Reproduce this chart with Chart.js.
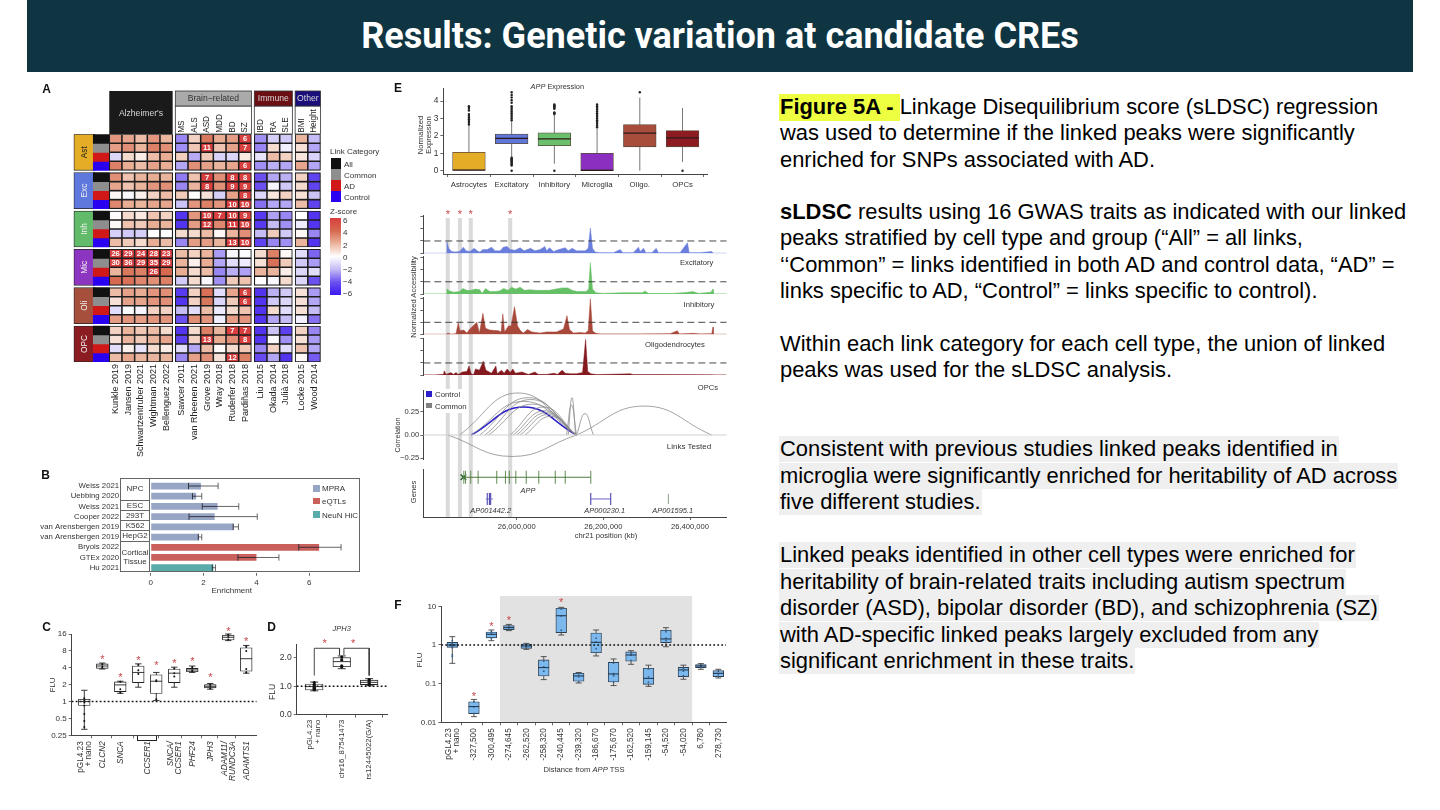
<!DOCTYPE html>
<html>
<head>
<meta charset="utf-8">
<script src="https://cdn.jsdelivr.net/npm/chart.js@4"></script>
<style>
html,body{margin:0;padding:0;background:#fff;}
#page{position:relative;width:1440px;height:810px;overflow:hidden;font-family:"Liberation Sans",Arial,sans-serif;}
#page canvas{position:absolute;filter:blur(0.35px);}
#head{position:absolute;left:27px;top:0;width:1386px;height:72px;background:#0e3541;color:#fff;font:700 36px Roboto,sans-serif;text-align:center;line-height:72px;}
.line{position:absolute;left:780px;font-size:21.92px;line-height:26.4px;height:26.4px;color:#000;white-space:nowrap;}
.grey{background:#efefef;left:779px;padding:0 1px;}
.hl{background:#eeff41;font-weight:700;display:inline-block;height:27px;margin-left:-1px;padding-left:1px;}
.t{position:absolute;white-space:nowrap;color:#333;font-size:8px;z-index:5;}
</style>
</head>
<body>
<div id="page"><div id="head">Results: Genetic variation at candidate CREs</div></div>
<script>
// ---------- panel A: sLDSC z-scores, rows All / Common / AD / Control
const studies = ['Kunkle 2019','Jansen 2019','Schwartzentruber 2021','Wightman 2021','Bellenguez 2022','Sawcer 2011','van Rheenen 2021','Grove 2019','Wray 2018','Ruderfer 2018','Pardiñas 2018','Liu 2015','Okada 2014','Julià 2018','Locke 2015','Wood 2014'];
const traits = ['','','','','','MS','ALS','ASD','MDD','BD','SZ','IBD','RA','SLE','BMI','Height'];
const colPos = [0,1,2,3,4,5.21,6.21,7.21,8.21,9.21,10.21,11.44,12.44,13.44,14.66,15.66];
const cellTypes = ['Ast','Exc','Inh','Mic','Oli','OPC'];
const cellColors = ['#e5ac25','#5f78dd','#62bb6a','#8b35c0','#a74f3d','#8a1c22'];
const linkNames = ['All','Common','AD','Control'];
const linkColors = ['#111111','#8e8e8e','#d01818','#2a00f0'];
const groupNames = ["Alzheimer's",'Brain−related','Immune','Other'];
const groupFirst = [0,5,11,14];
const groupLast = [4,10,13,15];
const groupColors = ['#1a1a1a','#aaaaaa','#6b0f14','#1a0f7a'];
const zStops = [-6,-4,-2,0,2,4,6];
const zColors = [[58,26,240],[108,80,240],[197,187,245],[255,255,255],[235,180,156],[214,105,79],[217,63,63]];
const heatAst = [
 [2.8,2.4,1.8,2.8,2,-3,1.2,3.6,2.2,2.6,6,-2.8,-1.4,-1.6,2,-2],
 [2.6,3,2,3.4,3,-2.8,1.5,11,1.6,2.5,7,-3,1,-0.5,0.8,-2.4],
 [-1.2,1,0.5,1.8,2.2,1.3,-2.3,1.4,-1.3,-1.2,0.6,-0.8,1.8,1.2,0.7,-1.3],
 [3.4,2.2,1.8,2.5,2.2,-2.4,3,2.5,2,2.4,6,-2.8,-2.2,-2.4,2.4,-2.4]];
const heatExc = [
 [3,1.6,2,2.2,2,-3.2,1.6,7,3,8,8,-4,-2.4,-2.2,1.2,-4.5],
 [2.4,1.6,2,2.8,3,-3,2,8,3,9,9,-4,-0.3,-1.6,1,-4.5],
 [0.2,-0.2,0.4,1.2,1.8,1.4,0.1,0.8,-1.4,2.5,8,-1.2,0.7,1.2,0.8,-1.8],
 [3.2,2.2,2,2.4,2.4,-1.8,2.8,3.4,2.8,10,10,-3.4,-2.4,-2.4,1.8,-4.5]];
const heatInh = [
 [0.1,1,0.6,1.6,1.2,-5,2.8,10,7,10,9,-4.8,-2.5,-3,0,-5],
 [0.2,1.6,1.4,2.2,2,-5,2.6,12,3.2,11,10,-4.8,-2,-2.8,-0.6,-5],
 [-1.4,-1.6,-1.4,0,0,1,1,1.8,0.2,2,3,-2,1.4,-1.6,0.2,-3],
 [1.8,1.4,1,2.2,1.8,-3,2.6,2.6,2,13,10,-4.5,-3,-2.8,2,-5]];
const heatMic = [
 [26,29,24,28,23,1.8,1.2,2,-2.6,-0.2,-0.1,1,3.4,0.2,-1,-3.6],
 [30,36,29,35,29,2,0.4,2.2,-2.4,-1,-0.6,0.8,3.8,1.4,-1.6,-2.6],
 [2,3.6,3.4,26,4,2.2,1,1.8,-3,-2.2,-2.5,2,2,0.5,-1.2,-1],
 [4,3.8,3.2,3,3.4,-1.5,1,-0.2,-2.8,1.4,1.6,0,-0.2,1,-1.2,-4]];
const heatOli = [
 [1.8,2.5,2.2,2.8,3,-4.8,1.2,3.8,-1,2.4,6,-5,-2.2,-1.6,0.8,-2.6],
 [0.8,2.5,2.4,2.8,3,-5,1.2,3.6,-1.2,1.4,6,-5,-1.6,-1.2,0.8,-2.4],
 [-1,-0.1,-0.3,1.2,1.2,-2,-1,1.8,-0.6,1,1.6,-5,1,-1,0.8,-2],
 [2.6,2.8,2.6,2.8,2.8,-4,3,2.8,-0.5,2.6,2.8,-5,-2.4,-2,-0.4,-3.4]];
const heatOpc = [
 [1.2,2,1.5,1.8,1,-5,1,3.4,2,7,7,-5,-1.8,-4.6,1.2,-3],
 [0.8,2,1.4,2,2.4,-4.6,1.2,13,2.2,3,8,-5,-0.1,-2.8,0.8,-2.6],
 [-1,0.4,-0.8,1,0.5,-1,-2.4,1.8,0.1,1,1.5,-3,1.2,-1,1.6,-2.4],
 [1.8,2.4,2,2,2,-3,2.5,3,0.8,12,3.4,-4.2,-2.4,-5,0.2,-3.8]];
const heatBlocks = [heatAst,heatExc,heatInh,heatMic,heatOli,heatOpc];

// ---------- panel B
const enrichStudies = ['Weiss 2021','Uebbing 2020','Weiss 2021','Cooper 2022','van Arensbergen 2019','van Arensbergen 2019','Bryois 2022','GTEx 2020','Hu 2021'];
const enrichValues = [1.9,1.72,2.53,2.42,3.13,1.83,6.37,4.0,2.37];
const enrichLow = [1.43,1.58,1.95,1.45,3.12,1.8,5.6,3.3,2.33];
const enrichHigh = [2.55,1.93,3.33,4.03,3.32,1.93,7.2,4.85,2.45];
const enrichColors = ['#98a6c6','#98a6c6','#98a6c6','#98a6c6','#98a6c6','#98a6c6','#c9605c','#c9605c','#5aacaa'];

// ---------- panel C
const cPos = [0,1,2,3,4,5,6,7,8,9];
const cTickPos = [-0.22,1,2,3.5,4.78,6,7,7.78,9];
const cTickLabels = [['pGL4.23','+ nano'],'CLCN2','SNCA','CCSER1',['SNCA/','CCSER1'],'PHF24','JPH3',['ADAM11/','RUNDC3A'],'ADAMTS1'];
const cQ1 = [0.85,3.9,1.5,2.18,1.39,2.18,3.4,1.75,12.5,3.47];
const cQ3 = [1.1,4.7,2.24,4.3,3,3.8,3.9,2,15.2,9.1];
const cMed = [1,4.3,1.98,3.3,2.3,3.2,3.66,1.87,14,5.8];
const cLo = [0.32,3.8,1.4,1.8,1.04,1.8,3.3,1.66,12.2,3.2];
const cHi = [1.59,4.85,2.3,4.7,3.3,4.1,4.3,2.1,16,10];
const cStar = [null,5.9,2.9,5.8,4.6,5.1,5.4,2.8,19,12.4];
const cDots = [[1.15,1.05,0.95,0.85,0.6,0.45,0.35],[4.6,4.2,3.95],[2.25,1.65,1.45],[4.5,3.6,3.1],[2.4,2.3,1.1],[3.9,3.2,2.8],[4.1,3.6,3.5],[2,1.85,1.7],[15.5,14.2,12.8],[9.5,8,3.8,3.3]];

// ---------- panel D
const dPos = [0,1,2];
const dTickPos = [-0.145,1,2];
const dTickLabels = [['pGL4.23','+ nano'],'chr16_87541473','rs12445022(G/A)'];
const dQ1 = [0.87,1.69,1.06];
const dQ3 = [1.08,2.01,1.22];
const dMed = [0.99,1.87,1.14];
const dLo = [0.84,1.62,1.02];
const dHi = [1.15,2.07,1.27];
const dStar = [2.56,2.56];
const dStarPos = [0.38,1.42];
const dDots = [[0.88,0.92,0.98,1.02,1.06,1.13,0.96,0.9],[1.68,1.72,1.93,2.03],[1.06,1.1,1.18,1.24]];

// ---------- panel E boxes
const exprTypes = ['Astrocytes','Excitatory','Inhibitory','Microglia','Oligo.','OPCs'];
const exprPos = [0,1,2,3,4,5];
const exprQ1 = [0,1.55,1.43,0,1.37,1.37];
const exprQ3 = [1.05,2.1,2.17,1,2.65,2.3];
const exprMed = [0.03,1.86,1.83,0.02,2.16,1.88];
const exprLo = [0,0.75,0.4,0,0,0.5];
const exprHi = [2.6,2.9,3.2,2.5,4.2,3.6];
const exprColors = ['#e5ac25','#6076d8','#6cbf6c','#8a2fbf','#a84c3c','#8c1c22'];
const exprOut = [
 [2.65,2.75,2.85,2.95,3.05,3.15,3.25,3.45,3.55,3.65,3.7],
 [0,0.3,0.35,0.4,0.45,0.5,0.55,0.6,0.65,0.7,0.75,2.9,3,3.1,3.2,3.3,3.4,3.5,3.6,3.7,3.9,4.05,4.2,4.35,4.5],
 [0,3.25,3.3,3.35,3.55,3.6,3.65,3.7,3.75,3.8],
 [2.5,2.6,2.7,2.8,2.9,3,3.1,3.2,3.3,3.4,3.5,3.6,3.7,3.8],
 [4.5],
 [0]];

// ---------- panel E accessibility tracks (kb, normalized accessibility)
const excPos = [25838,25839,25843,25850,25858,25868,25877,25883,25892,25902,25909,25915,25922,25932,25942,25950,25962,25969,25978,25985,25996,26008,26017,26032,26042,26054,26065,26069,26076,26085,26097,26112,26119,26128,26138,26158,26165,26170,26175,26181,26192,26223,26239,26245,26269,26281,26285,26293,26298,26312,26322,26327,26346,26377,26394,26398,26423,26450,26454];
const excVal = [0,0.95,0.4,0.15,0.1,0.15,0.5,0.2,0.15,0.4,0.2,0.1,0.3,0.3,0.5,0.2,0.2,0.5,0.55,0.3,0.25,0.45,0.2,0.4,0.2,0.3,0.55,0.2,0.45,0.15,0.3,0.45,0.2,0.4,0.2,0.2,0.4,2.05,0.4,0.1,0.05,0.05,0.3,0.05,0.05,0.5,0.15,0.4,0.05,0.05,0.4,0.05,0.05,0.05,0.85,0.05,0.05,0.15,0];
const inhPos = [25838,25839,25845,25855,25868,25876,25885,25895,25905,25915,25920,25928,25938,25950,25960,25970,25980,25988,25998,26008,26018,26030,26045,26060,26075,26090,26105,26118,26128,26140,26160,26166,26170,26175,26183,26200,26240,26290,26296,26304,26360,26390,26406,26420,26448,26453,26454];
const inhVal = [0,0.4,0.25,0.15,0.2,0.45,0.3,0.3,0.4,0.35,0.05,0.45,0.2,0.2,0.25,0.45,0.3,0.55,0.4,0.55,0.3,0.35,0.3,0.3,0.3,0.4,0.5,0.5,0.3,0.2,0.2,0.4,2.55,0.4,0.1,0.05,0.1,0.1,0.25,0.05,0.05,0.12,0.2,0.05,0.15,0.4,0];
const oliPos = [25838,25841,25848,25860,25865,25869,25878,25885,25892,25902,25908,25914,25922,25928,25938,25958,25964,25968,25972,25981,25987,25995,26002,26009,26015,26025,26035,26054,26069,26092,26108,26116,26122,26131,26146,26158,26165,26170,26175,26181,26192,26285,26354,26371,26375,26408,26423,26450,26453,26454];
const oliVal = [0,0.1,0,0.05,0.95,0.3,0.35,0.1,0.45,0.8,1,0.1,1.75,0.5,0.35,0.3,0.2,1.7,0.2,0.7,0.7,2.3,0.7,0.3,0.1,0.4,0.2,0.1,0.2,0.2,0.45,1.55,0.4,0.1,0.15,0.1,0.3,2.95,0.3,0.1,0.03,0.03,0.05,0.3,0.03,0.08,0.03,0.05,0.6,0];
const opcPos = [25815,25831,25833,25837,25848,25854,25860,25865,25875,25885,25890,25895,25900,25905,25914,25923,25929,25942,25952,25955,25965,25971,25978,25985,25991,25997,26012,26027,26042,26050,26069,26086,26094,26105,26112,26123,26138,26152,26159,26164,26171,26185,26262,26269,26362,26454];
const opcVal = [0,0.05,0.35,0.05,0.2,0.05,0.2,0.05,0.25,0.3,0.75,0.1,0,0.5,0.4,1.15,0.4,0.15,0.75,0.1,0.4,0.15,0.5,0.2,0.5,0.15,0.25,0.05,0.25,0.05,0.05,0.15,0.05,0.4,0.15,0.1,0.1,0.2,2.95,0.3,0.1,0.03,0.1,0.03,0.02,0];
const bandPos = [25841,25869,25894,25985];

// ---------- panel E links and genes
const linkStart = [25868,25895,25915,25927,25935,25985,25992,26000,26008,26019,26119,26115,26138,26138,25841];
const linkEnd = [26138,26138,26138,26138,26138,26138,26138,26138,26138,26138,26136,26138,26177,26450,26138];
const linkHeight = [0.45,0.36,0.4,0.38,0.33,0.3,0.26,0.24,0.22,0.2,0.4,0.32,0.23,0.31,-0.23];
const blueStart = [25895];
const blueEnd = [26138];
const blueHeight = [0.3];
const appExons = [25878,25882,25894,25911,25954,25974,25983,25998,26022,26051,26089,26112,26171];
const genes1442 = [25932,25937,25940];
const genes230 = [26171,26217];
const genes1595 = [26350];

// ---------- panel F
const fPos = [0,1.24,2.24,3.24,4.24,5.24,6.24,7.24,8.24,9.24,10.24,11.24,12.24,13.24,14.24,15.24];
const fTickPos = [-0.23,1.24,2.24,3.24,4.24,5.24,6.24,7.24,8.24,9.24,10.24,11.24,12.24,13.24,14.24,15.24];
const fTickLabels = [['pGL4.23','+ nano'],'-327,500','-300,495','-274,645','-262,520','-258,320','-240,445','-239,320','-186,670','-175,670','-162,520','-159,145','-54,520','-54,020','6,780','278,730'];
const fQ1 = [0.87,0.0168,1.52,2.49,0.82,0.158,2.08,0.115,0.63,0.11,0.38,0.096,1.15,0.152,0.26,0.152];
const fQ3 = [1.17,0.034,2.17,3.16,1.06,0.41,8.9,0.185,2.04,0.356,0.66,0.25,2.4,0.264,0.31,0.217];
const fMed = [1,0.0255,1.89,2.8,0.94,0.26,5.7,0.158,1.17,0.178,0.55,0.137,1.43,0.226,0.286,0.185];
const fLo = [0.335,0.014,1.29,2.35,0.77,0.127,1.81,0.104,0.52,0.089,0.316,0.085,0.9,0.13,0.235,0.14];
const fHi = [1.64,0.039,2.44,3.4,1.1,0.5,9.4,0.194,2.44,0.434,0.71,0.3,2.8,0.3,0.33,0.235];
const fStar = [null,0.052,3.3,4.8,null,null,14,null,null,null,null,null,null,null,null,null];
const fDots = [[1.3,1.1,1.05,0.98,0.95,0.9,0.85,0.55,0.5],[0.034,0.025,0.017],[2.2,1.9,1.5],[3.1,2.8,2.55],[1,0.92,0.85],[0.38,0.27,0.21],[8.5,5.6,2.4],[0.18,0.15,0.11],[1.5,1.2,0.8],[0.34,0.18,0.16,0.11],[0.62,0.55,0.4],[0.24,0.15,0.11],[2.2,1.5,1.3],[0.25,0.21,0.16],[0.3,0.285,0.27],[0.21,0.18,0.155]];

// ---------- slide text
const bodyLines = [
 [107,'<span class="hl">Figure 5A -&nbsp;</span>Linkage Disequilibrium score (sLDSC) regression',0],
 [133,'was used to determine if the linked peaks were significantly',0],
 [160,'enriched for SNPs associated with AD.',0],
 [212,'<b>sLDSC</b> results using 16 GWAS traits as indicated with our linked',0],
 [238,'peaks stratified by cell type and group (“All” = all links,',0],
 [265,'‘‘Common” = links identified in both AD and control data, “AD” =',0],
 [291,'links specific to AD, “Control” = links specific to control).',0],
 [344,'Within each link category for each cell type, the union of linked',0],
 [370,'peaks was used for the sLDSC analysis.',0],
 [449,'Consistent with previous studies linked peaks identified in',1],
 [476,'microglia were significantly enriched for heritability of AD across',1],
 [502,'five different studies.',1],
 [555,'Linked peaks identified in other cell types were enriched for',1],
 [582,'heritability of brain-related traits including autism spectrum',1],
 [608,'disorder (ASD), bipolar disorder (BD), and schizophrenia (SZ)',1],
 [635,'with AD-specific linked peaks largely excluded from any',1],
 [661,'significant enrichment in these traits.',1]];

// ---------- helpers
const page = document.getElementById('page');
const FONT = '"Liberation Sans", Arial, sans-serif';
const INK = '#333';
Chart.defaults.font.family = FONT;
Chart.defaults.color = INK;
Chart.defaults.animation = false;
Chart.defaults.responsive = false;
Chart.defaults.maintainAspectRatio = false;
Chart.defaults.plugins.legend.display = false;
Chart.defaults.plugins.tooltip.enabled = false;

function txt(html, x, y, o = {}) {
  const d = document.createElement('div');
  d.className = 't';
  d.innerHTML = html;
  d.style.left = x + 'px';
  d.style.top = y + 'px';
  const ax = o.anchor === 'left' ? '0' : '-50%';
  d.style.transform = `translate(${ax},-50%)` + (o.rot ? ` rotate(${o.rot}deg)` : '');
  if (o.size) d.style.fontSize = o.size + 'px';
  if (o.bold) d.style.fontWeight = 700;
  if (o.color) d.style.color = o.color;
  page.appendChild(d);
}
function rect(x, y, w, h, css) {
  const d = document.createElement('div');
  d.style.cssText = `position:absolute;left:${x}px;top:${y}px;width:${w}px;height:${h}px;box-sizing:border-box;` + css;
  page.appendChild(d);
}
function canvas(c) {
  const el = document.createElement('canvas');
  el.width = c[2];
  el.height = c[3];
  el.style.left = c[0] + 'px';
  el.style.top = c[1] + 'px';
  page.appendChild(el);
  return el.getContext('2d');
}
function fitted(size, vertical) {
  return s => {
    if (vertical) s.width = size; else s.height = size;
    s.paddingLeft = s.paddingRight = s.paddingTop = s.paddingBottom = 0;
  };
}
// canvas c = [x,y,w,h], plot p = [left,top,right,bottom], both in page pixels
function layoutOf(c, p) {
  return {autoPadding: false, padding: {top: p[1] - c[1], right: c[0] + c[2] - p[2], left: 0, bottom: 0}};
}
function xAxis(c, p, min, max, extra = {}) {
  return Object.assign({type: 'linear', min, max, offset: false, afterFit: fitted(c[1] + c[3] - p[3], false),
    grid: {display: false, drawTicks: false, offset: false}, border: {display: false}, ticks: {display: false}}, extra);
}
function yAxis(c, p, min, max, extra = {}) {
  return Object.assign({type: 'linear', min, max, afterFit: fitted(p[0] - c[0], true),
    grid: {display: false, drawTicks: false}, border: {display: false}, ticks: {display: false}}, extra);
}
function setTicks(vals) { return s => { s.ticks = vals.map(v => ({value: v})); }; }
const axisGrid = {display: true, drawOnChartArea: false, drawTicks: true, tickLength: 3, tickColor: '#444', tickWidth: 0.8};
const axisLine = {display: true, color: '#444', width: 1};

function heatColor(v) {
  const z = Math.max(-6, Math.min(6, v));
  let i = 0;
  while (i < zStops.length - 2 && z > zStops[i + 1]) i++;
  const f = (z - zStops[i]) / (zStops[i + 1] - zStops[i]);
  const c = zColors[i].map((a, k) => Math.round(a + (zColors[i + 1][k] - a) * f));
  return `rgb(${c[0]},${c[1]},${c[2]})`;
}

// ---------- panel A chart
const aC = [60, 85, 270, 385], aP = [72.5, 134.3, 321, 362];
const rowGap = 4.26;
const aSets = [];
heatBlocks.forEach((block, b) => block.forEach((row, r) => {
  const top = b * rowGap + r;
  aSets.push({data: row.map((v, i) => ({x: colPos[i], y: [top, top + 1]})), backgroundColor: row.map(heatColor),
    borderColor: '#1c1c1c', borderWidth: 1.1, borderSkipped: false, barThickness: 12.67, grouped: false, zVals: row});
  aSets.push({data: [{x: -1.137, y: [top, top + 1]}], backgroundColor: linkColors[r], borderWidth: 0, barThickness: 15.8, grouped: false});
}));
cellTypes.forEach((n, b) => {
  aSets.push({data: [{x: -2.46, y: [b * rowGap, b * rowGap + 4]}], backgroundColor: cellColors[b], borderColor: '#222', borderWidth: 0.8, borderSkipped: false, barThickness: 21, grouped: false});
});
const heatDecor = {
  id: 'heatDecor',
  afterDatasetsDraw(chart) {
    const g = chart.ctx, x = chart.scales.x, y = chart.scales.y;
    chart.data.datasets.forEach((ds, di) => {
      if (!ds.zVals) return;
      chart.getDatasetMeta(di).data.forEach((el, i) => {
        if (ds.zVals[i] < 5.5) return;
        g.fillStyle = '#fff';
        g.font = '700 7.6px ' + FONT;
        g.textAlign = 'center';
        g.textBaseline = 'middle';
        g.fillText(Math.round(ds.zVals[i]), el.x, el.y + (el.base - el.y) / 2 + 0.3);
      });
    });
    cellTypes.forEach((n, b) => {
      g.save();
      g.translate(x.getPixelForValue(-2.46), y.getPixelForValue(b * rowGap + 2));
      g.rotate(-Math.PI / 2);
      g.fillStyle = b === 0 ? '#222' : '#f3f3f3';
      g.font = '8.3px ' + FONT;
      g.textAlign = 'center';
      g.textBaseline = 'middle';
      g.fillText(n, 0, 0);
      g.restore();
    });
    groupNames.forEach((name, k) => {
      const l = x.getPixelForValue(colPos[groupFirst[k]] - 0.5), r = x.getPixelForValue(colPos[groupLast[k]] + 0.5);
      const w = r - l, t = chart.chartArea.top - 43.3;
      if (k === 0) {
        g.fillStyle = groupColors[0];
        g.fillRect(l, t, w, 43);
      } else {
        g.fillStyle = '#fff';
        g.strokeStyle = '#333';
        g.lineWidth = 0.8;
        g.fillRect(l, t + 15, w, 28);
        g.strokeRect(l, t + 15, w, 28);
        g.fillStyle = groupColors[k];
        g.fillRect(l, t, w, 15);
        g.strokeRect(l, t, w, 15);
      }
      g.fillStyle = k === 1 ? '#333' : '#d8d8d8';
      g.font = '8.6px ' + FONT;
      g.textAlign = 'center';
      g.textBaseline = 'middle';
      g.fillText(name, l + w / 2, k === 0 ? t + 23 : t + 7.5);
    });
    traits.forEach((tr, i) => {
      if (!tr) return;
      g.save();
      g.translate(x.getPixelForValue(colPos[i]), chart.chartArea.top - 1.5);
      g.rotate(-Math.PI / 2);
      g.fillStyle = '#222';
      g.font = '8.2px ' + FONT;
      g.textAlign = 'left';
      g.textBaseline = 'middle';
      g.fillText(tr, 0, 0);
      g.restore();
    });
  }
};
new Chart(canvas(aC), {
  type: 'bar',
  data: {datasets: aSets},
  plugins: [heatDecor],
  options: {
    layout: layoutOf(aC, aP),
    scales: {
      x: xAxis(aC, aP, -3.4, 16.2, {afterBuildTicks: setTicks(colPos),
        ticks: {display: true, autoSkip: false, minRotation: 90, maxRotation: 90, padding: 2, font: {size: 9}, color: '#222',
          callback: v => studies[colPos.indexOf(v)]}}),
      y: yAxis(aC, aP, 0, 25.3, {reverse: true})
    }
  }
});
txt('Link Category', 330, 151, {anchor: 'left'});
linkNames.forEach((n, i) => {
  rect(330.5, 158.4 + i * 11, 10.4, 10.4, 'background:' + linkColors[i]);
  txt(n, 344, 163.6 + i * 11, {anchor: 'left'});
});
txt('Z-score', 330, 211, {anchor: 'left'});
rect(330, 218.3, 11, 76.7, 'background:linear-gradient(to top,' + zColors.map(c => `rgb(${c})`).join(',') + ')');
zStops.forEach((z, i) => txt(String(z).replace('-', '−'), 343, 293.3 - i * 12.2, {anchor: 'left'}));

// ---------- panel B chart
const bC = [20, 470, 345, 130], bP = [150.7, 480.9, 359.3, 572.8];
rect(120, 478.3, 239.6, 94, 'border:1px solid #666');
rect(149.3, 478.3, 1, 94, 'background:#666');
[500, 510, 520, 530, 541].forEach(y => rect(120, y, 30, 1, 'background:#666'));
const errorBars = {
  id: 'errorBars',
  afterDatasetsDraw(chart) {
    const g = chart.ctx, x = chart.scales.x, y = chart.scales.y;
    enrichValues.forEach((v, i) => {
      const py = y.getPixelForValue(i), lo = x.getPixelForValue(enrichLow[i]), hi = x.getPixelForValue(enrichHigh[i]), mid = x.getPixelForValue(v);
      g.lineWidth = 0.9;
      g.strokeStyle = '#555';
      g.beginPath();
      g.moveTo(mid, py); g.lineTo(hi, py);
      g.moveTo(hi, py - 3.2); g.lineTo(hi, py + 3.2);
      g.stroke();
      g.strokeStyle = '#2a2a35';
      g.beginPath();
      g.moveTo(lo, py); g.lineTo(mid, py);
      g.moveTo(lo, py - 3.2); g.lineTo(lo, py + 3.2);
      g.stroke();
    });
  }
};
new Chart(canvas(bC), {
  type: 'bar',
  data: {labels: enrichStudies, datasets: [{data: enrichValues, backgroundColor: enrichColors, barPercentage: 0.66, categoryPercentage: 1}]},
  plugins: [errorBars],
  options: {
    indexAxis: 'y',
    layout: layoutOf(bC, bP),
    scales: {
      x: xAxis(bC, bP, 0, 7.89, {afterBuildTicks: setTicks([0, 2, 4, 6]), grid: axisGrid,
        ticks: {display: true, font: {size: 8}, padding: 2, maxRotation: 0}}),
      y: {type: 'category', offset: true, afterFit: fitted(bP[0] - bC[0], true), grid: {display: false, drawTicks: false}, border: {display: false},
        ticks: {font: {size: 7.8}, padding: 31.5, autoSkip: false}}
    }
  }
});
[['NPC', 488.3], ['ESC', 505], ['293T', 515], ['K562', 525], ['HepG2', 535.3], ['Cortical', 552.3], ['Tissue', 560.7]].forEach(a => txt(a[0], 135, a[1]));
txt('Enrichment', 231.7, 590);
[['MPRA', 485, '#98a6c6'], ['eQTLs', 497.7, '#c9605c'], ['NeuN HiC', 511.3, '#5aacaa']].forEach(a => {
  rect(313.3, a[1], 6.8, 6.8, 'background:' + a[2]);
  txt(a[0], 322, a[1] + 3.4, {anchor: 'left'});
});

// ---------- box plots (panels C, D, E top, F)
function boxChart(o) {
  const sets = [{type: 'bar', data: o.pos.map((x, i) => ({x, y: [o.q1[i], o.q3[i]]})), backgroundColor: o.fill, borderColor: o.edge,
    borderWidth: o.edgeW, borderSkipped: false, barThickness: o.barPx, grouped: false, order: 5}];
  if (o.dots) {
    sets.push({type: 'scatter', data: o.dots.flatMap((vs, i) => vs.map(y => ({x: o.pos[i], y}))), pointRadius: o.dotR,
      pointBackgroundColor: o.dotColor, pointBorderWidth: 0, order: 2, clip: false});
  }
  if (o.refY !== undefined) {
    sets.push({type: 'line', data: [{x: o.xMin, y: o.refY}, {x: o.xMax, y: o.refY}], borderColor: '#111', borderWidth: 1.6, borderDash: [1.8, 2.2], pointRadius: 0, order: 1});
  }
  (o.paths || []).forEach(path => sets.push({type: 'line', data: path, borderColor: '#333', borderWidth: 0.9, pointRadius: 0, order: 1, clip: false}));
  const parts = {
    id: 'boxParts',
    beforeDatasetsDraw(chart) {
      const g = chart.ctx, x = chart.scales.x, y = chart.scales.y;
      g.strokeStyle = o.whiskerColor;
      g.lineWidth = o.whiskerW;
      o.pos.forEach((p, i) => {
        const px = x.getPixelForValue(p), lo = y.getPixelForValue(o.lo[i]), hi = y.getPixelForValue(o.hi[i]);
        g.beginPath();
        g.moveTo(px, lo); g.lineTo(px, hi);
        if (o.capPx) {
          g.moveTo(px - o.capPx, lo); g.lineTo(px + o.capPx, lo);
          g.moveTo(px - o.capPx, hi); g.lineTo(px + o.capPx, hi);
        }
        g.stroke();
      });
      if (o.shade) {
        g.fillStyle = '#e2e2e2';
        const l = x.getPixelForValue(o.shade[0]), r = x.getPixelForValue(o.shade[1]);
        g.globalCompositeOperation = 'destination-over';
        g.fillRect(l, chart.chartArea.top - 10.3, r - l, chart.chartArea.bottom - chart.chartArea.top + 10.3);
        g.globalCompositeOperation = 'source-over';
      }
    },
    afterDatasetsDraw(chart) {
      const g = chart.ctx, x = chart.scales.x, y = chart.scales.y;
      g.strokeStyle = o.medColor;
      g.lineWidth = o.medW;
      o.pos.forEach((p, i) => {
        const px = x.getPixelForValue(p), m = y.getPixelForValue(o.med[i]);
        g.beginPath();
        g.moveTo(px - o.barPx / 2, m); g.lineTo(px + o.barPx / 2, m);
        g.stroke();
      });
      g.fillStyle = '#c8454a';
      g.font = '11px ' + FONT;
      g.textAlign = 'center';
      g.textBaseline = 'middle';
      (o.stars || []).forEach((s, i) => {
        if (s === null) return;
        const sx = o.starPos ? o.starPos[i] : o.pos[i];
        g.fillText('*', x.getPixelForValue(sx), y.getPixelForValue(s) + 2);
      });
    }
  };
  new Chart(canvas(o.c), {
    type: 'bar',
    data: {datasets: sets},
    plugins: [parts],
    options: {
      layout: layoutOf(o.c, o.p),
      scales: {
        x: xAxis(o.c, o.p, o.xMin, o.xMax, {afterBuildTicks: setTicks(o.tickPos), grid: axisGrid, border: axisLine,
          ticks: {display: true, autoSkip: false, minRotation: o.labelRot, maxRotation: o.labelRot, padding: o.labelPad, font: o.labelFont,
            callback: v => o.tickLabels[o.tickPos.indexOf(v)]}}),
        y: yAxis(o.c, o.p, o.yMin, o.yMax, {type: o.yType, afterBuildTicks: setTicks(o.yTicks), grid: axisGrid, border: axisLine,
          ticks: {display: true, padding: 2, font: {size: o.yFont}, callback: o.yFmt}})
      }
    }
  });
}
boxChart({c: [30, 625, 240, 170], p: [71.7, 634, 256.7, 735.3], pos: cPos, tickPos: cTickPos, tickLabels: cTickLabels,
  q1: cQ1, q3: cQ3, med: cMed, lo: cLo, hi: cHi, stars: cStar, dots: cDots, dotR: 1, dotColor: '#111', fill: '#fff', edge: '#222', edgeW: 0.9, barPx: 11.7,
  whiskerColor: '#222', whiskerW: 0.9, capPx: 3.2, medColor: '#222', medW: 0.9, refY: 1, xMin: -0.7, xMax: 9.58,
  yType: 'logarithmic', yMin: 0.25, yMax: 16, yTicks: [0.25, 0.5, 1, 2, 4, 8, 16], yFmt: v => String(v), yFont: 8,
  labelRot: 90, labelPad: 3, labelFont: ctx => ({size: 8.2, lineHeight: 1, style: ctx.index === 0 ? 'normal' : 'italic'})});
rect(137.3, 735.7, 19.3, 5.2, 'border:1px solid #222;border-top:0');
txt('FLU', 51.7, 685, {rot: -90, size: 8});

boxChart({c: [270, 625, 125, 175], p: [296.7, 644.3, 387.3, 714.7], pos: dPos, tickPos: dTickPos, tickLabels: dTickLabels,
  q1: dQ1, q3: dQ3, med: dMed, lo: dLo, hi: dHi, stars: dStar, starPos: dStarPos, dots: dDots, dotR: 1.6, dotColor: '#111', fill: '#fff', edge: '#222', edgeW: 0.9, barPx: 17.6,
  whiskerColor: '#222', whiskerW: 0.9, capPx: 4, medColor: '#222', medW: 0.9, refY: 1, xMin: -0.64, xMax: 2.66,
  paths: [[{x: 0, y: 1.38}, {x: 0, y: 2.34}, {x: 0.92, y: 2.34}, {x: 0.92, y: 2.1}], [{x: 1.08, y: 2.1}, {x: 1.08, y: 2.34}, {x: 2, y: 2.34}, {x: 2, y: 1.38}]],
  yType: 'linear', yMin: 0, yMax: 2.48, yTicks: [0, 1, 2], yFmt: v => v.toFixed(1), yFont: 8.6,
  labelRot: 90, labelPad: 2, labelFont: {size: 7.8, lineHeight: 1}});
txt('<i>JPH3</i>', 341.7, 628, {size: 7.5});
txt('FLU', 271.7, 691.7, {rot: -90, size: 8.5});

boxChart({c: [400, 80, 320, 115], p: [443.3, 88.3, 707.3, 174], pos: exprPos, tickPos: exprPos, tickLabels: exprTypes,
  q1: exprQ1, q3: exprQ3, med: exprMed, lo: exprLo, hi: exprHi, dots: exprOut, dotR: 1.2, dotColor: '#222', fill: exprColors, edge: '#5a4a3a', edgeW: 0.8, barPx: 32.7,
  whiskerColor: '#777', whiskerW: 1, medColor: '#2a1a1a', medW: 1.2, xMin: -0.6, xMax: 5.58,
  yType: 'linear', yMin: -0.19, yMax: 4.73, yTicks: [0, 1, 2, 3, 4], yFmt: v => v, yFont: 8.4,
  labelRot: 0, labelPad: 3, labelFont: {size: 7.8}});
txt('<i>APP</i> Expression', 557.3, 85.7, {size: 7.4});
txt('Normalized', 420, 135, {rot: -90, size: 7.6});
txt('Expression', 428, 135, {rot: -90, size: 7.6});

boxChart({c: [400, 590, 340, 190], p: [441.3, 606.3, 726, 722.3], pos: fPos, tickPos: fTickPos, tickLabels: fTickLabels,
  q1: fQ1, q3: fQ3, med: fMed, lo: fLo, hi: fHi, stars: fStar, dots: fDots, dotR: 0.9, dotColor: '#3a5f86', fill: '#7ab8ee', edge: '#2f3f50', edgeW: 0.9, barPx: 10.7,
  whiskerColor: '#444', whiskerW: 0.9, capPx: 3, medColor: '#1f2f40', medW: 1, refY: 1, xMin: -0.63, xMax: 15.68, shade: [2.73, 13.74],
  yType: 'logarithmic', yMin: 0.01, yMax: 10, yTicks: [0.01, 0.1, 1, 10], yFmt: v => String(v), yFont: 8,
  labelRot: 90, labelPad: 3, labelFont: {size: 8.2, lineHeight: 1}});
txt('Distance from <i>APP</i> TSS', 584, 769, {size: 7.6});
txt('FLU', 419, 660, {rot: -90, size: 8});

// ---------- panel E: highlighted candidate regions
const KB_MIN = 25784.5, KB_MAX = 26484.6;
const bandC = [400, 205, 340, 315], bandP = [423.3, 218, 726.7, 517];
const bandStars = {
  id: 'bandStars',
  afterDatasetsDraw(chart) {
    const g = chart.ctx, x = chart.scales.x;
    g.fillStyle = '#c8454a';
    g.font = '11px ' + FONT;
    g.textAlign = 'center';
    g.textBaseline = 'middle';
    bandPos.forEach(p => g.fillText('*', x.getPixelForValue(p), 10));
  }
};
new Chart(canvas(bandC), {
  type: 'bar',
  data: {datasets: [{data: bandPos.map(x => ({x, y: [0, 1]})), backgroundColor: '#dadada', barThickness: 3.4, grouped: false}]},
  plugins: [bandStars],
  options: {layout: layoutOf(bandC, bandP), scales: {x: xAxis(bandC, bandP, KB_MIN, KB_MAX), y: yAxis(bandC, bandP, 0, 1)}}
});
rect(424, 389, 44, 24, 'background:#fff');

// ---------- panel E: accessibility tracks
function track(top, bottom, pos, val, color) {
  const c = [400, Math.floor(top) - 2, 340, Math.ceil(bottom) - Math.floor(top) + 4], p = [423.3, top, 726.7, bottom];
  new Chart(canvas(c), {
    type: 'scatter',
    data: {datasets: [
      {type: 'line', data: pos.map((x, i) => ({x, y: val[i]})), borderColor: color, backgroundColor: color, borderWidth: 0.5, pointRadius: 0, fill: 'origin', tension: 0, order: 2},
      {type: 'line', data: [{x: KB_MIN, y: 0}, {x: KB_MAX, y: 0}], borderColor: color, borderWidth: 0.8, pointRadius: 0, order: 3},
      {type: 'line', data: [{x: KB_MIN, y: 1}, {x: KB_MAX, y: 1}], borderColor: '#333', borderWidth: 0.9, borderDash: [7, 4], pointRadius: 0, order: 1}
    ]},
    options: {
      layout: layoutOf(c, p),
      scales: {
        x: xAxis(c, p, KB_MIN, KB_MAX),
        y: yAxis(c, p, 0, 3.05, {afterBuildTicks: setTicks([0, 1, 2, 3]), border: axisLine, grid: axisGrid,
          ticks: {display: true, callback: () => '', padding: 0, font: {size: 1}}})
      }
    }
  });
}
track(215.7, 253.3, excPos, excVal, '#6a7fdc');
track(256.7, 294, inhPos, inhVal, '#66c066');
track(297.7, 334.3, oliPos, oliVal, '#a8483a');
track(338.3, 375, opcPos, opcVal, '#841a1f');
txt('Normalized Accessibility', 413, 297, {rot: -90, size: 7.6});
txt('Excitatory', 696.7, 262.3, {size: 7.6});
txt('Inhibitory', 699, 303.7, {size: 7.6});
txt('Oligodendrocytes', 675, 344.3, {size: 7.7});
txt('OPCs', 708, 387.3, {size: 7.6});

// ---------- panel E: links
const lkC = [395, 385, 345, 80], lkP = [423.3, 390, 726.7, 459];
function arc(a, b, h) { return [{x: a, y: 0}, {x: (a + b) / 2, y: h}, {x: b, y: 0}]; }
const lkSets = [{data: [{x: KB_MIN, y: 0}, {x: KB_MAX, y: 0}], borderColor: '#cfcfcf', borderWidth: 1, pointRadius: 0}];
linkStart.forEach((a, i) => lkSets.push({data: arc(a, linkEnd[i], linkHeight[i]), borderColor: '#8c8c8c', borderWidth: 0.8, tension: 0.45, pointRadius: 0}));
blueStart.forEach((a, i) => lkSets.push({data: arc(a, blueEnd[i], blueHeight[i]), borderColor: '#2a1fc9', borderWidth: 1.5, tension: 0.45, pointRadius: 0}));
new Chart(canvas(lkC), {
  type: 'line',
  data: {datasets: lkSets},
  options: {
    layout: layoutOf(lkC, lkP),
    scales: {
      x: xAxis(lkC, lkP, KB_MIN, KB_MAX),
      y: yAxis(lkC, lkP, -0.257, 0.482, {afterBuildTicks: setTicks([-0.25, 0, 0.25]), border: axisLine, grid: axisGrid,
        ticks: {display: true, padding: 1, font: {size: 7.6}, callback: v => v.toFixed(2).replace('-', '−')}})
    }
  }
});
rect(425.7, 391, 6.3, 5.8, 'background:#2a1fc9');
rect(425.7, 402.7, 6.3, 5.8, 'background:#808080');
txt('Control', 435, 394, {anchor: 'left', size: 7.8});
txt('Common', 435, 405.6, {anchor: 'left', size: 7.8});
txt('Links Tested', 689, 445.7, {size: 8});
txt('Correlation', 397, 435, {rot: -90, size: 7.2});

// ---------- panel E: genes
const gnC = [400, 465, 340, 78], gnP = [423.3, 469, 726.7, 517];
function exons(xs, y, color, r) {
  return {type: 'scatter', data: xs.map(x => ({x, y})), pointStyle: 'line', pointRotation: 90, pointRadius: r, pointBorderColor: color, pointBorderWidth: 1, showLine: false};
}
function span(a, b, y, color) {
  return {type: 'line', data: [{x: a, y}, {x: b, y}], borderColor: color, borderWidth: 1, pointRadius: 0};
}
new Chart(canvas(gnC), {
  type: 'scatter',
  data: {datasets: [
    span(25878, 26171, 1.83, '#4d7a3c'),
    exons(appExons, 1.83, '#5f8a50', 6.5),
    {type: 'scatter', data: [{x: 25877, y: 1.83}], pointStyle: 'crossRot', pointRadius: 4, pointBorderColor: '#1e5a20', pointBorderWidth: 1.3},
    span(25929, 25945, 0.83, '#6a62c8'),
    exons(genes1442, 0.83, '#3a32a5', 6),
    span(26171, 26217, 0.83, '#6a62c8'),
    exons(genes230, 0.83, '#3a32a5', 6),
    exons(genes1595, 0.83, '#8aa080', 5)
  ]},
  options: {
    layout: layoutOf(gnC, gnP),
    scales: {
      x: xAxis(gnC, gnP, KB_MIN, KB_MAX, {afterBuildTicks: setTicks([26000, 26200, 26400]), border: axisLine, grid: axisGrid,
        ticks: {display: true, autoSkip: false, maxRotation: 0, padding: 2, font: {size: 7.6}, callback: v => (v * 1000).toLocaleString('en-US')}}),
      y: yAxis(gnC, gnP, 0, 2.21, {border: axisLine})
    }
  }
});
txt('Genes', 412.7, 492, {rot: -90, size: 7.6});
txt('<i>APP</i>', 528, 490, {size: 7.4});
txt('<i>AP001442.2</i>', 490.7, 509.7, {size: 7.4});
txt('<i>AP000230.1</i>', 604.7, 509.7, {size: 7.4});
txt('<i>AP001595.1</i>', 672.7, 509.7, {size: 7.4});
txt('chr21 position (kb)', 606, 535, {size: 7.6});

// ---------- panel letters
[['A', 46.7, 89], ['B', 45.7, 475], ['C', 46.7, 627], ['D', 271.7, 627], ['E', 398, 88], ['F', 398, 605]].forEach(a => txt(a[0], a[1], a[2], {size: 12, bold: true, color: '#111'}));

// ---------- body text
bodyLines.forEach(l => {
  const d = document.createElement('div');
  d.className = 'line' + (l[2] ? ' grey' : '');
  d.style.top = (l[0] - 13.2) + 'px';
  d.innerHTML = l[1];
  page.appendChild(d);
});
</script>
</body>
</html>
